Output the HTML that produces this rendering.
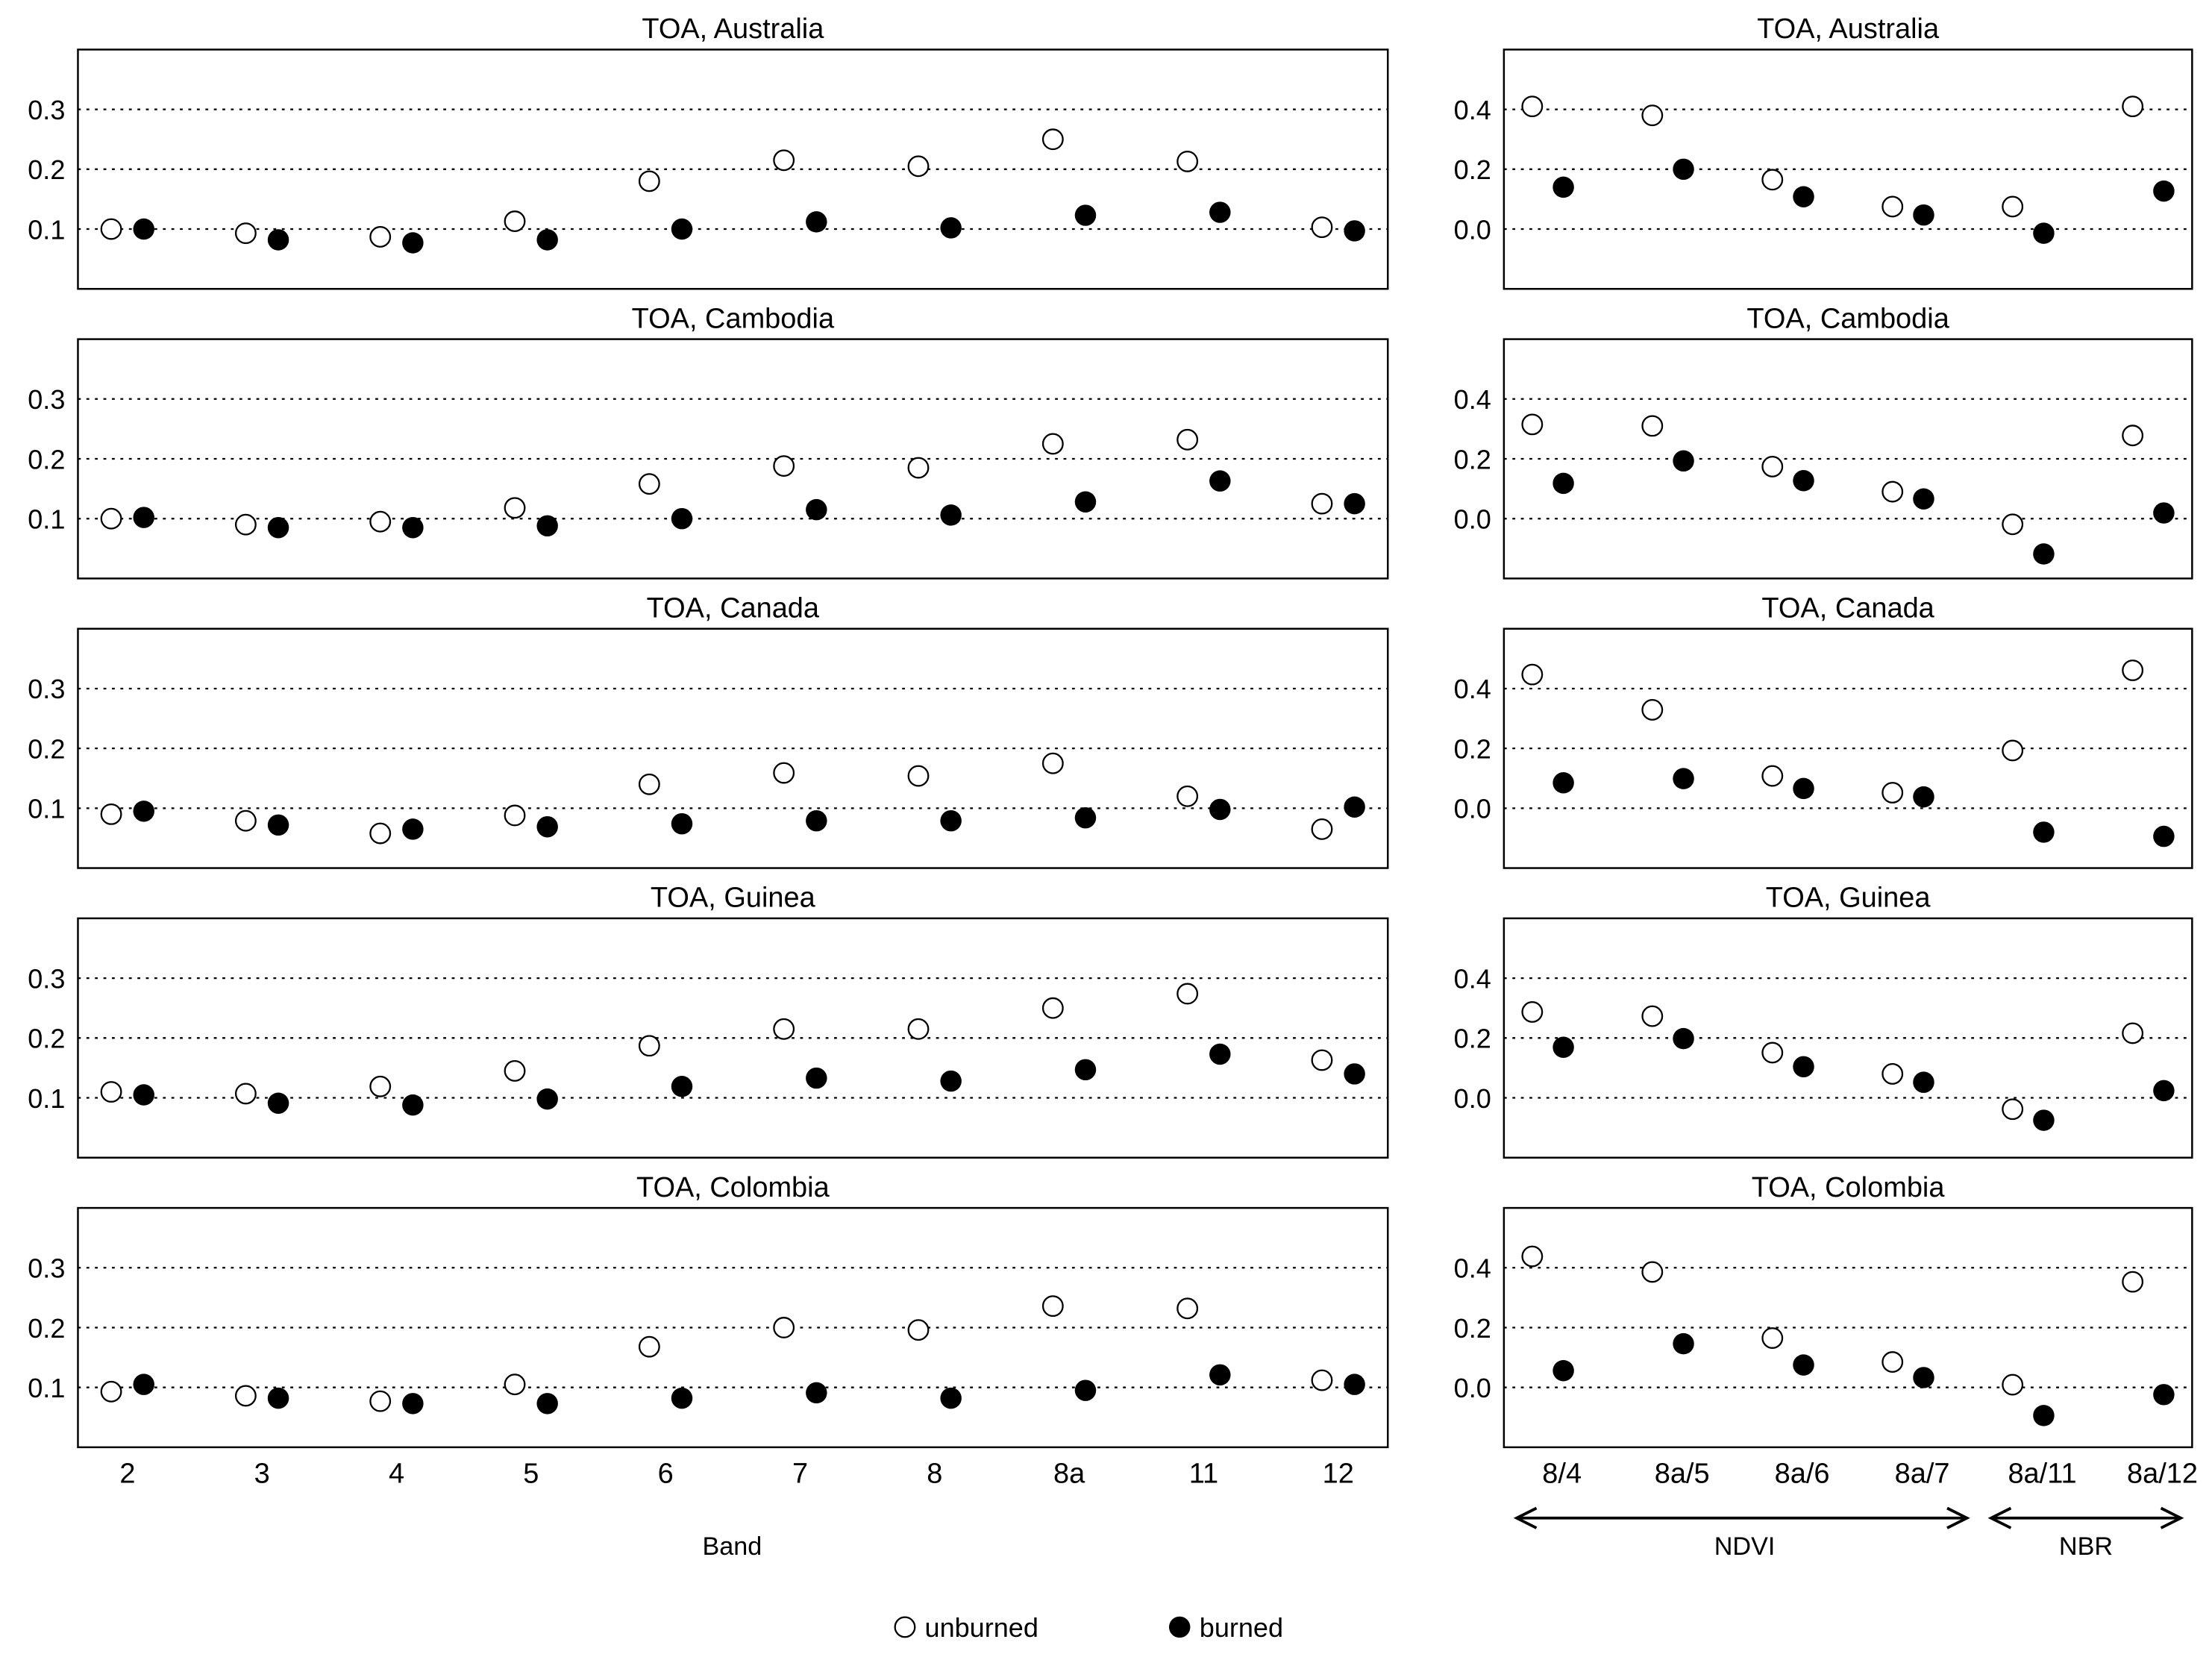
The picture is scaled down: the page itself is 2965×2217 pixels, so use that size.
<!DOCTYPE html>
<html><head><meta charset="utf-8"><style>
html,body{margin:0;padding:0;background:#fff}
svg{display:block}
text{font-family:"Liberation Sans",sans-serif;fill:#000}
</style></head><body>
<svg id="chart" width="2965" height="2217" viewBox="0 0 1562 1168" xmlns="http://www.w3.org/2000/svg"></svg>
<script>
const regions = ["Australia","Cambodia","Canada","Guinea","Colombia"];
const bands = ["2","3","4","5","6","7","8","8a","11","12"];
const ratios = ["8/4","8a/5","8a/6","8a/7","8a/11","8a/12"];
const leftTicks = [0.1,0.2,0.3];
const rightTicks = [0.0,0.2,0.4];
const bandUnburned = [
 [0.10,0.093,0.087,0.113,0.18,0.215,0.205,0.25,0.213,0.103],
 [0.10,0.09,0.095,0.118,0.158,0.188,0.185,0.225,0.232,0.125],
 [0.09,0.079,0.058,0.088,0.14,0.159,0.154,0.175,0.12,0.065],
 [0.11,0.107,0.119,0.145,0.187,0.215,0.215,0.25,0.274,0.163],
 [0.093,0.086,0.077,0.105,0.168,0.2,0.196,0.236,0.232,0.112]];
const bandBurned = [
 [0.10,0.082,0.077,0.082,0.10,0.112,0.102,0.123,0.128,0.097],
 [0.102,0.085,0.085,0.088,0.10,0.115,0.106,0.128,0.163,0.125],
 [0.095,0.072,0.065,0.069,0.074,0.079,0.079,0.084,0.098,0.102],
 [0.105,0.091,0.088,0.098,0.119,0.133,0.128,0.147,0.173,0.14],
 [0.105,0.082,0.073,0.073,0.082,0.091,0.082,0.095,0.121,0.105]];
const ratioUnburned = [
 [0.41,0.38,0.165,0.075,0.075,0.41],
 [0.315,0.31,0.174,0.09,-0.019,0.278],
 [0.447,0.329,0.108,0.052,0.193,0.461],
 [0.287,0.273,0.151,0.08,-0.038,0.216],
 [0.438,0.386,0.165,0.085,0.009,0.353]];
const ratioBurned = [
 [0.14,0.2,0.108,0.047,-0.014,0.127],
 [0.118,0.193,0.127,0.066,-0.118,0.019],
 [0.085,0.099,0.066,0.038,-0.08,-0.094],
 [0.169,0.198,0.104,0.052,-0.075,0.024],
 [0.056,0.146,0.075,0.033,-0.094,-0.024]];

const svg = document.getElementById('chart');
const NS = 'http://www.w3.org/2000/svg';
function el(tag, attrs, parent){const e=document.createElementNS(NS,tag);for(const k in attrs)e.setAttribute(k,attrs[k]);(parent||svg).appendChild(e);return e;}
function txt(x,y,s,size,anchor,parent){const t=el('text',{x:x,y:y,'font-size':size,'text-anchor':anchor||'middle'},parent);t.textContent=s;return t;}

const panelTop = k => 35 + 204.5*k;
const panelH = 169;
const L = {x0:55,x1:980,vmin:0.0,vmax:0.4,xc:i=>90+95*i,off:11.5};
const R = {x0:1062,x1:1548,vmin:-0.2,vmax:0.6,xc:i=>1093+84.8*i,off:11};

function drawPanel(k, P, cats, un, bu, ticks, fmt, side){
  const g = el('g',{});
  
  
  const top = panelTop(k), bot = top+panelH;
  const yS = v => bot - (v-P.vmin)/(P.vmax-P.vmin)*panelH;
  const title = txt((P.x0+P.x1)/2, top-8, 'TOA, '+regions[k], 20, 'middle', g);
  
  
  ticks.forEach(v=>{
    const y=yS(v);
    el('line',{x1:P.x0,x2:P.x1,y1:y,y2:y,stroke:'#000','stroke-width':1.2,'stroke-dasharray':'2,4'},g);
    const t=txt(P.x0-9,y+7,fmt(v),19,'end',g);
    
    
  });
  el('rect',{x:P.x0,y:top,width:P.x1-P.x0,height:panelH,fill:'none',stroke:'#000','stroke-width':1.3},g);
  cats.forEach((c,i)=>{
    const cu=el('circle',{cx:P.xc(i)-P.off,cy:yS(un[i]),r:7,fill:'#fff',stroke:'#000','stroke-width':1.2},g);
    
    
    const cb=el('circle',{cx:P.xc(i)+P.off,cy:yS(bu[i]),r:7.5,fill:'#000'},g);
    
    
  });
  if(k===4){
    cats.forEach((c,i)=>{
      const t=txt(P.xc(i)+ (side==='right'?10:0), 1047, c, 20, 'middle', g);
      
      
    });
  }
}
for(let k=0;k<5;k++){
  drawPanel(k,L,bands,bandUnburned[k],bandBurned[k],leftTicks,v=>v.toFixed(1),'left');
  drawPanel(k,R,ratios,ratioUnburned[k],ratioBurned[k],rightTicks,v=>v.toFixed(1),'right');
}
// axis title
const bt=txt(517,1098,'Band',18);


// arrows
function arrow(x1,x2,y,name){
  const g=el('g',{});
  
  
  el('line',{x1:x1+2,x2:x2-2,y1:y,y2:y,stroke:'#000','stroke-width':2},g);
  el('path',{d:`M${x1+14},${y-7} L${x1},${y} L${x1+14},${y+7}`,fill:'none',stroke:'#000','stroke-width':2},g);
  el('path',{d:`M${x2-14},${y-7} L${x2},${y} L${x2-14},${y+7}`,fill:'none',stroke:'#000','stroke-width':2},g);
}
arrow(1071,1389,1072,'ndvi-arrow');
arrow(1406,1540,1072,'nbr-arrow');
const nd=txt(1232,1098,'NDVI',18);


const nb=txt(1473,1098,'NBR',18);


// legend
const lg=el('g',{});


el('circle',{cx:639,cy:1149,r:7,fill:'#fff',stroke:'#000','stroke-width':1.2},lg);
const l1=txt(653,1156,'unburned',19,'start',lg);


el('circle',{cx:833,cy:1149,r:7.5,fill:'#000'},lg);
const l2=txt(847,1156,'burned',19,'start',lg);


</script>
</body></html>
